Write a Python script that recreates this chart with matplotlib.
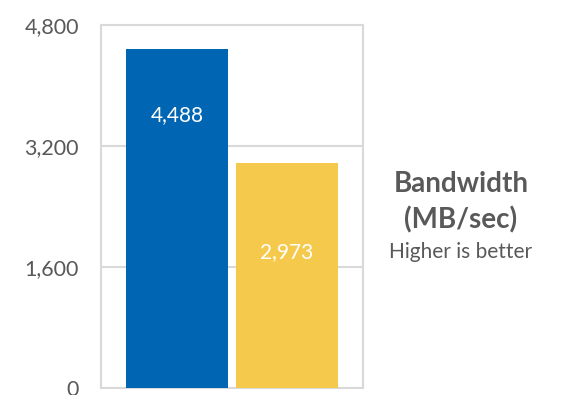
import matplotlib.pyplot as plt

# data
labels = ['A', 'B']
values = [4488, 2973]
colors = ['#0066B3', '#F5C94C']
yticks = [0, 1600, 3200, 4800]
# label offset below bar top (points)
label_off = [48, 64]

plt.rcParams['font.family'] = ['Lato', 'DejaVu Sans']
grid_c = '#D9D9D9'
txt_c = '#595959'

fig = plt.figure(figsize=(5.67, 3.95), dpi=100)
ax = fig.add_axes([0.1781, 0.0177, 0.4621, 0.919])

x = range(len(values))
bars = ax.bar(x, values, width=0.927, color=colors, zorder=3)
ax.set_xlim(-0.691, 1.691)
ax.set_ylim(0, 4800)
ax.set_yticks(yticks)
ax.set_yticklabels([f'{v:,}' for v in yticks], color=txt_c, fontsize=15.5)
ax.set_xticks([])
ax.tick_params(axis='y', length=0, pad=16)
ax.yaxis.grid(True, color=grid_c, linewidth=1.5, zorder=0)
for s in ax.spines.values():
    s.set_color(grid_c)
    s.set_linewidth(1.5)

for i, v in enumerate(values):
    ax.annotate(f'{v:,}', (i, v), xytext=(0, -label_off[i]), textcoords='offset points',
                ha='center', va='center', color='white', fontsize=15)

fig.text(461/567, 1-184/395, 'Bandwidth', ha='center', va='center',
         fontsize=20, fontweight='bold', color=txt_c)
fig.text(461/567, 1-220/395, '(MB/sec)', ha='center', va='center',
         fontsize=20, fontweight='bold', color=txt_c)
fig.text(461/567, 1-252/395, 'Higher is better', ha='center', va='center',
         fontsize=15, color=txt_c)

fig.savefig('out.png', dpi=100)
